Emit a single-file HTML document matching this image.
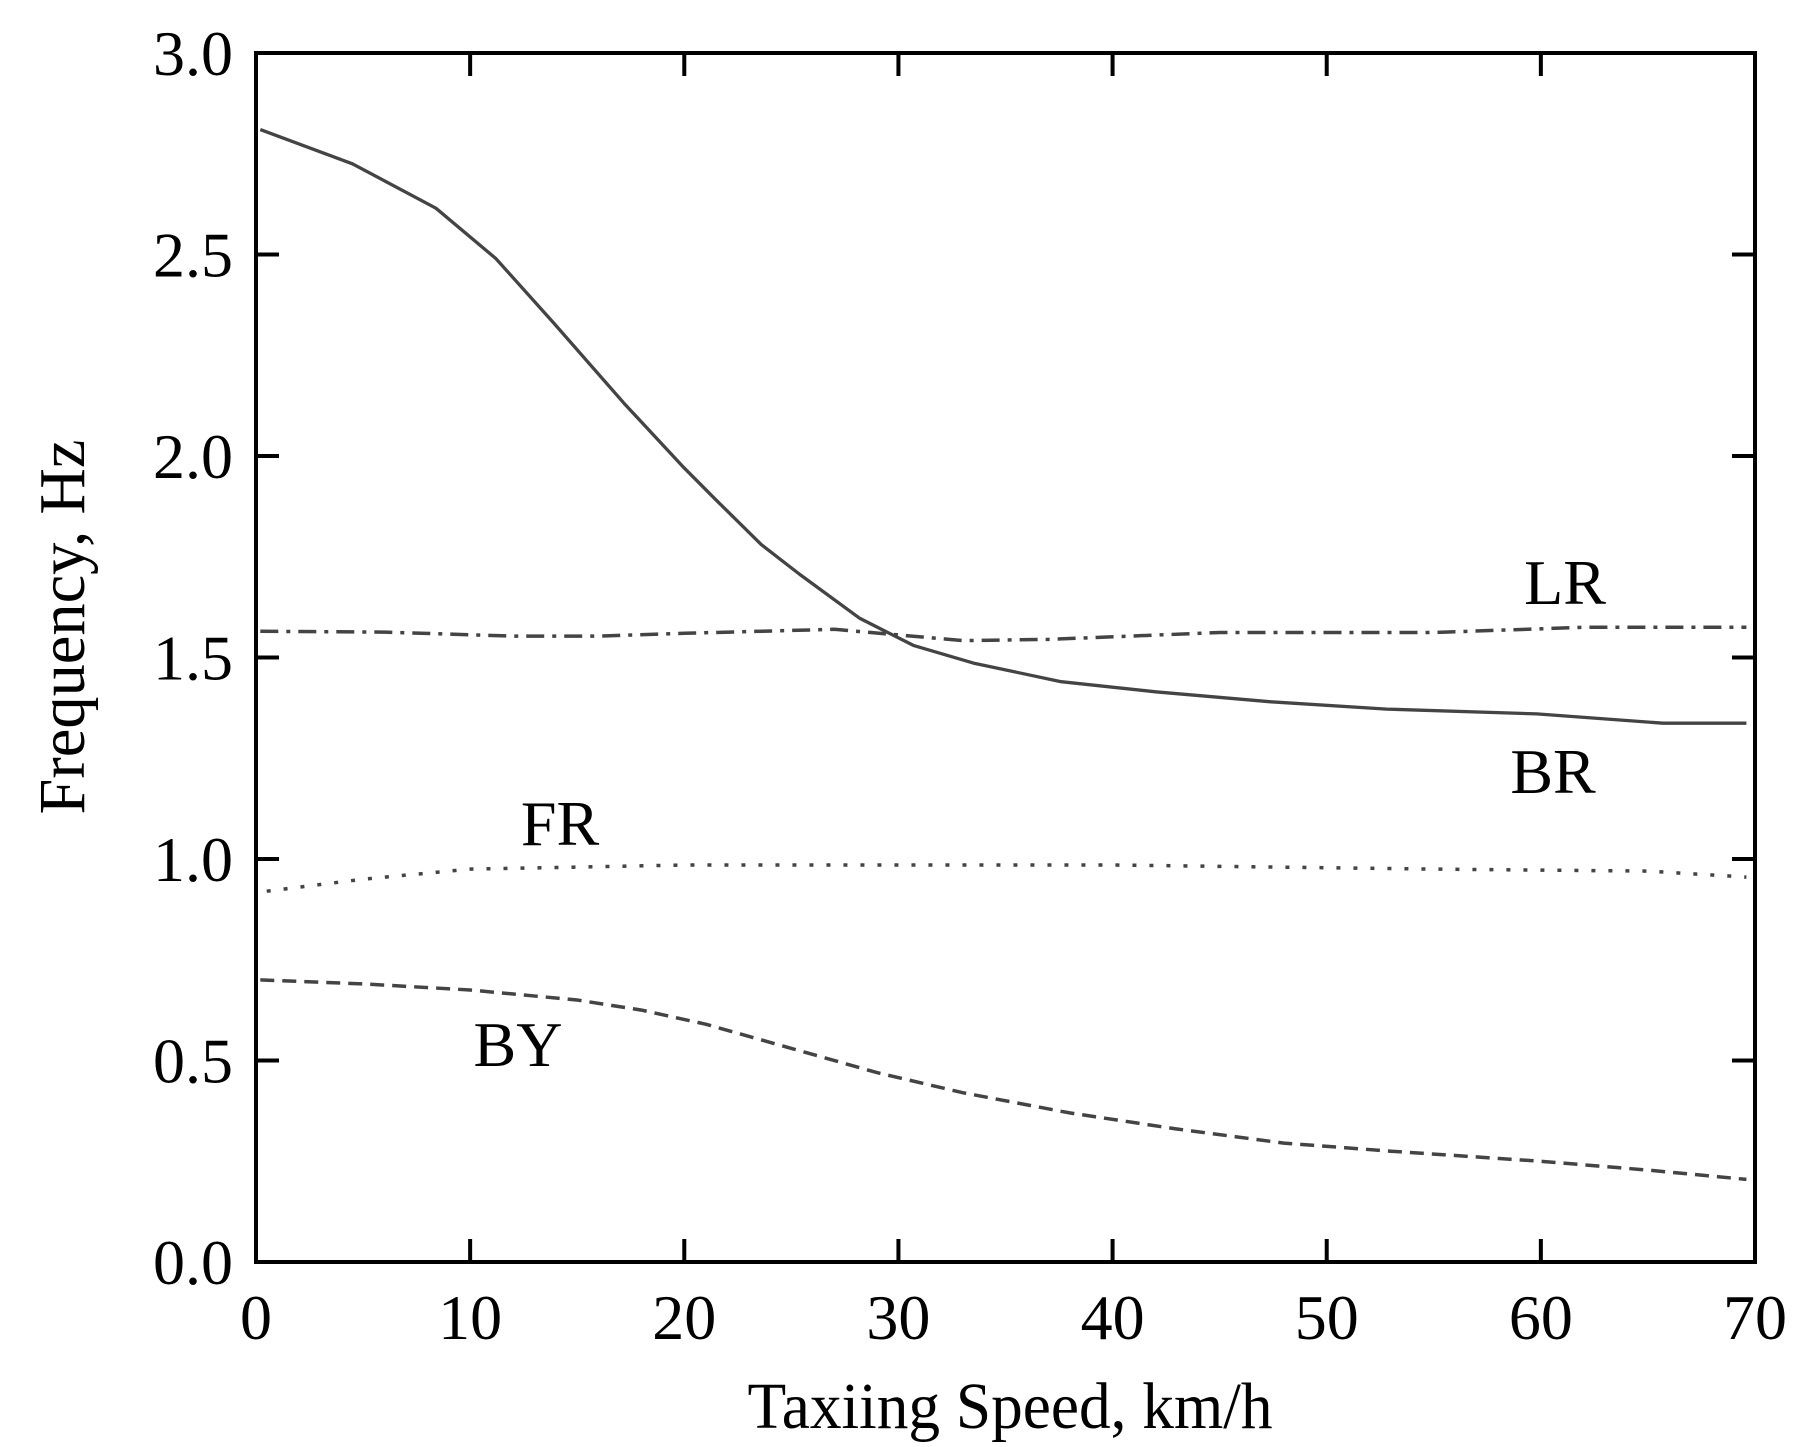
<!DOCTYPE html>
<html><head><meta charset="utf-8"><style>
html,body{margin:0;padding:0;background:#fff;}
svg{display:block;}
text{font-family:"Liberation Serif",serif;fill:#000;}
</style></head><body>
<svg id="chart" width="1811" height="1447" viewBox="0 0 1811 1447">
<g id="series"></g>
<g id="axes"></g>
</svg>
<script>
const xTicks=[0,10,20,30,40,50,60,70];
const yTicks=[0,0.5,1.0,1.5,2.0,2.5,3.0];
const yTickLabels=["0.0","0.5","1.0","1.5","2.0","2.5","3.0"];
const brX=[0.2,4.5,8.4,11.2,13.9,17.2,20.0,21.5,23.6,25.4,28.2,30.7,33.5,37.6,42,47.4,52.8,59.8,65.7,69.6];
const brY=[2.81,2.725,2.615,2.49,2.33,2.13,1.97,1.89,1.78,1.706,1.597,1.53,1.486,1.44,1.415,1.39,1.372,1.36,1.337,1.337];
const lrX=[0.2,6,12,16,20,27,33,37,45,55,62,69.6];
const lrY=[1.565,1.563,1.553,1.553,1.56,1.57,1.542,1.545,1.562,1.562,1.575,1.575];
const frX=[0.5,5,10,15,20,35,40,55,65,69.6];
const frY=[0.92,0.95,0.975,0.98,0.985,0.985,0.985,0.975,0.97,0.955];
const byX=[0.2,5,10,15,18,21,25,29,33,38,43,48,53,60,65,69.6];
const byY=[0.70,0.69,0.675,0.65,0.625,0.59,0.53,0.47,0.42,0.37,0.33,0.295,0.275,0.25,0.228,0.205];
const NS="http://www.w3.org/2000/svg";
const L=256,R=1755,T=53,B=1262;
const sx=v=>L+(v/70)*(R-L);
const sy=v=>B-(v/3)*(B-T);
const axes=document.getElementById('axes'),ser=document.getElementById('series');
function mk(tag,attrs,parent){const e=document.createElementNS(NS,tag);for(const k in attrs)e.setAttribute(k,attrs[k]);parent.appendChild(e);return e;}
const frame=mk('rect',{x:L,y:T,width:R-L,height:B-T,fill:'none',stroke:'#000','stroke-width':4},axes);


xTicks.forEach(v=>{
  const x=sx(v);
  const t1=mk('line',{x1:x,x2:x,y1:B,y2:B-23,stroke:'#000','stroke-width':4},axes);
  
  
  const t2=mk('line',{x1:x,x2:x,y1:T,y2:T+23,stroke:'#000','stroke-width':4},axes);
  
  
  const tx=mk('text',{x:x,y:1339,'font-size':64,'text-anchor':'middle'},axes);
  tx.textContent=v;
  
  
});
yTicks.forEach((v,i)=>{
  const y=sy(v);
  const t1=mk('line',{x1:L,x2:L+23,y1:y,y2:y,stroke:'#000','stroke-width':4},axes);
  
  
  const t2=mk('line',{x1:R,x2:R-23,y1:y,y2:y,stroke:'#000','stroke-width':4},axes);
  
  
  const tx=mk('text',{x:233,y:y+22,'font-size':64,'text-anchor':'end'},axes);
  tx.textContent=yTickLabels[i];
  
  
});
const xt=mk('text',{x:1010,y:1428,'font-size':66,'text-anchor':'middle',textLength:525,lengthAdjust:'spacingAndGlyphs'},axes);
xt.textContent='Taxiing Speed, km/h';


const yt=mk('text',{x:0,y:0,'font-size':66,'text-anchor':'middle',textLength:375,lengthAdjust:'spacingAndGlyphs',transform:'translate(84,627) rotate(-90)'},axes);
yt.textContent='Frequency, Hz';


function line(xs,ys,dash,name){
  const d=xs.map((x,i)=>(i?'L':'M')+sx(x).toFixed(1)+','+sy(ys[i]).toFixed(1)).join(' ');
  const p=mk('path',{d:d,fill:'none',stroke:'#444','stroke-width':dash?3.5:3.3,'stroke-linejoin':'round'},ser);
  if(dash)p.setAttribute('stroke-dasharray',dash);
  
  
}
line(brX,brY,null,'br-line');
line(lrX,lrY,'18 8 4 8','lr-line');
line(frX,frY,'4 13','fr-line');
line(byX,byY,'14 8','by-line');
function lab(t,x,y,name){const e=mk('text',{x:x,y:y,'font-size':64,'text-anchor':'middle'},axes);e.textContent=t;
  
  }
lab('LR',1565,604,'label-lr');
lab('BR',1553,793,'label-br');
lab('FR',560,845,'label-fr');
lab('BY',518,1066,'label-by');
</script>
</body></html>
